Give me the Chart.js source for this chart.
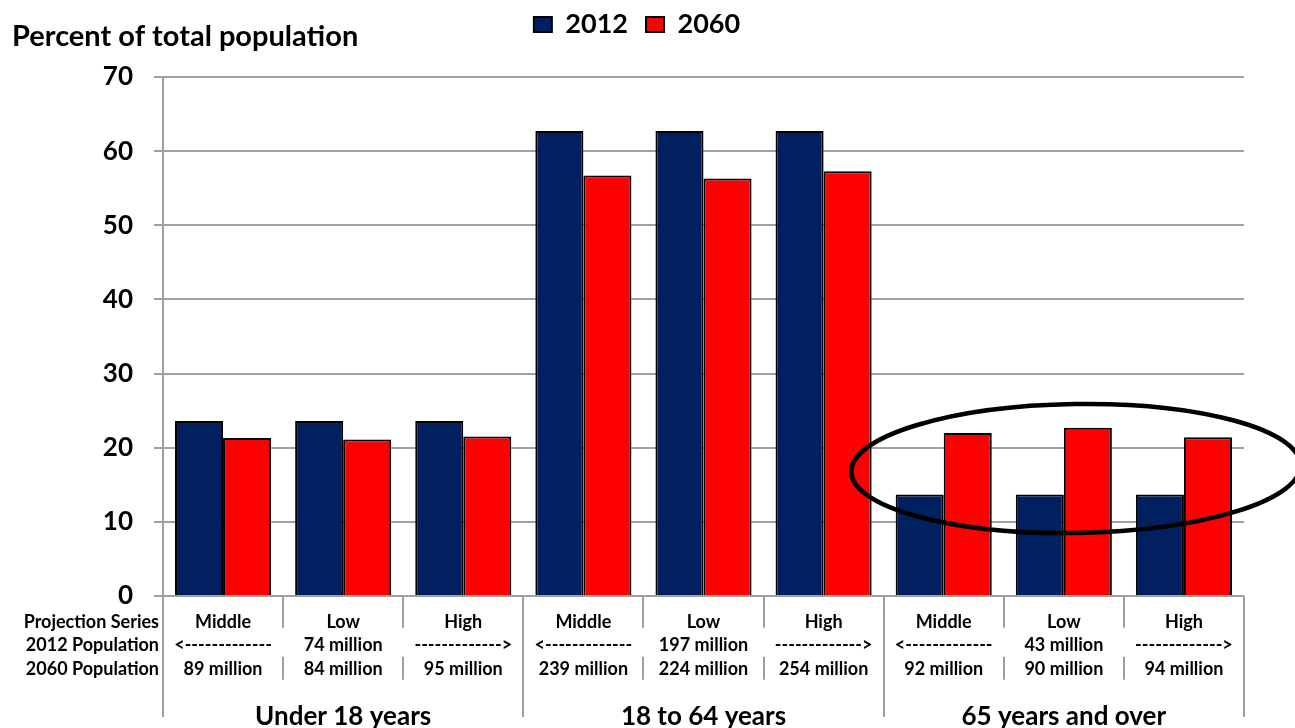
<!DOCTYPE html>
<html>
<head>
<meta charset="utf-8">
<script src="https://cdn.jsdelivr.net/npm/chart.js@4.4.1/dist/chart.umd.min.js"></script>
<style>
  html, body { margin: 0; padding: 0; background: #ffffff; }
  #wrap { width: 1295px; height: 728px; }
</style>
</head>
<body>
<div id="wrap"><canvas id="c" width="1295" height="728"></canvas></div>
<script>
// Projection series per age group, and the population figures printed under each bar pair
const categories = ['Middle', 'Low', 'High', 'Middle', 'Low', 'High', 'Middle', 'Low', 'High'];
const pop2012Row = ['<-------------', '74 million', '------------->',
                    '<-------------', '197 million', '------------->',
                    '<-------------', '43 million', '------------->'];
const pop2060Row = ['89 million', '84 million', '95 million',
                    '239 million', '224 million', '254 million',
                    '92 million', '90 million', '94 million'];
const ageGroups = ['Under 18 years', '18 to 64 years', '65 years and over'];
const rowTitles = ['Projection Series', '2012 Population', '2060 Population'];
const yAxisTitle = 'Percent of total population';

// Percent of total population
const values2012 = [23.6, 23.6, 23.6, 62.7, 62.7, 62.7, 13.7, 13.7, 13.7];
const values2060 = [21.3, 21.1, 21.5, 56.7, 56.3, 57.3, 22.0, 22.7, 21.4];
const yMin = 0, yMax = 70, yStep = 10;

// Highlight ring around the 65+ group (category index / value units)
const ring = { center: 7.1, value: 17.2, halfCats: 1.87, halfValue: 8.7, tilt: -0.015 };

const FONT = 'Lato, "Open Sans", "DejaVu Sans", sans-serif';
const GRID = '#a0a0a0';
const ROW_FONT = 18, ROW_LH = 1.306, ROW_PAD = 14;

Chart.defaults.font.family = FONT;
Chart.defaults.color = '#000';

const tableAndNotes = {
  id: 'tableAndNotes',
  afterInit(chart) {
    // leave room between the legend and the plot for the axis title
    const lg = chart.legend;
    if (lg && !lg._tallFit) {
      const fit = lg.fit.bind(lg);
      lg.fit = function () { fit(); this.height = 84; };
      lg._tallFit = true;
    }
  },
  afterDatasetsDraw(chart) {
    const x = chart.scales.x, y = chart.scales.y, ctx = chart.ctx;
    const catW = x.getPixelForValue(1) - x.getPixelForValue(0);
    const cx = x.getPixelForValue(0) + ring.center * catW;
    const cy = y.getPixelForValue(ring.value);
    const rx = ring.halfCats * catW;
    const ry = y.getPixelForValue(0) - y.getPixelForValue(ring.halfValue);
    ctx.save();
    ctx.beginPath();
    ctx.ellipse(cx, cy, rx, ry, ring.tilt, 0, Math.PI * 2);
    ctx.lineWidth = 4.5;
    ctx.strokeStyle = '#000';
    ctx.stroke();
    ctx.restore();
  },
  afterDraw(chart) {
    const x = chart.scales.x, ctx = chart.ctx;
    const catW = x.getPixelForValue(1) - x.getPixelForValue(0);
    const lh = ROW_FONT * ROW_LH;
    const rowY = [0, 1, 2].map(i => x.top + ROW_PAD + lh * (i + 0.5));
    ctx.save();
    ctx.strokeStyle = GRID;
    ctx.lineWidth = 2;
    for (let i = 0; i <= categories.length; i++) {
      const px = Math.round(x.getPixelForValue(0) - catW / 2 + i * catW);
      ctx.beginPath();
      if (i % 3 === 0) {
        ctx.moveTo(px, x.top);
        ctx.lineTo(px, x.top + 121);
      } else {
        ctx.moveTo(px, x.top);
        ctx.lineTo(px, rowY[0] + 6);
        ctx.moveTo(px, rowY[2] - 12);
        ctx.lineTo(px, rowY[2] + 11);
      }
      ctx.stroke();
    }
    // row headings of the table
    ctx.fillStyle = '#000';
    ctx.font = 'bold ' + ROW_FONT + 'px ' + FONT;
    ctx.textAlign = 'right';
    ctx.textBaseline = 'middle';
    rowTitles.forEach((t, i) => ctx.fillText(t, x.left - 4, rowY[i]));
    // axis title
    ctx.font = 'bold 29px ' + FONT;
    ctx.textAlign = 'left';
    ctx.fillText(yAxisTitle, 12, 37);
    ctx.restore();
  }
};

new Chart(document.getElementById('c'), {
  type: 'bar',
  data: {
    labels: categories.map((c, i) => [c, pop2012Row[i], pop2060Row[i]]),
    datasets: [
      { label: '2012', data: values2012, backgroundColor: '#002060',
        borderColor: '#000', borderWidth: 2, borderSkipped: 'bottom' },
      { label: '2060', data: values2060, backgroundColor: '#ff0000',
        borderColor: '#000', borderWidth: 2, borderSkipped: 'bottom' }
    ]
  },
  options: {
    responsive: false,
    animation: false,
    devicePixelRatio: 1,
    categoryPercentage: 0.8,
    barPercentage: 1.0,
    layout: { padding: { left: 30, right: 51, top: -7, bottom: 0 } },
    plugins: {
      tooltip: { enabled: false },
      legend: {
        position: 'top',
        labels: {
          font: { family: FONT, size: 27, weight: 'bold' },
          color: '#000', boxWidth: 18, boxHeight: 15, padding: 18
        }
      }
    },
    scales: {
      x: {
        position: 'bottom',
        weight: 0,
        grid: { display: false, drawTicks: false },
        border: { display: false },
        ticks: {
          font: { family: FONT, size: ROW_FONT, weight: 'bold', lineHeight: ROW_LH },
          color: '#000', padding: ROW_PAD, maxRotation: 0, autoSkip: false
        },
        afterFit(s) { s.height = 100; }
      },
      groups: {
        type: 'category',
        labels: ageGroups,
        position: 'bottom',
        weight: 1,
        offset: true,
        grid: { display: false, drawTicks: false },
        border: { display: false },
        ticks: { font: { family: FONT, size: 26, weight: 'bold', lineHeight: 1.2 },
                 color: '#000', padding: 5, maxRotation: 0 },
        afterFit(s) { s.height = 32; }
      },
      y: {
        min: yMin, max: yMax,
        ticks: { stepSize: yStep, font: { family: FONT, size: 26, weight: 'bold' },
                 color: '#000', padding: 21 },
        grid: { color: GRID, lineWidth: 2, tickLength: 9 },
        border: { color: GRID, width: 2 },
        afterFit(s) { s.width = 133; }
      }
    }
  },
  plugins: [tableAndNotes]
});
</script>
</body>
</html>
